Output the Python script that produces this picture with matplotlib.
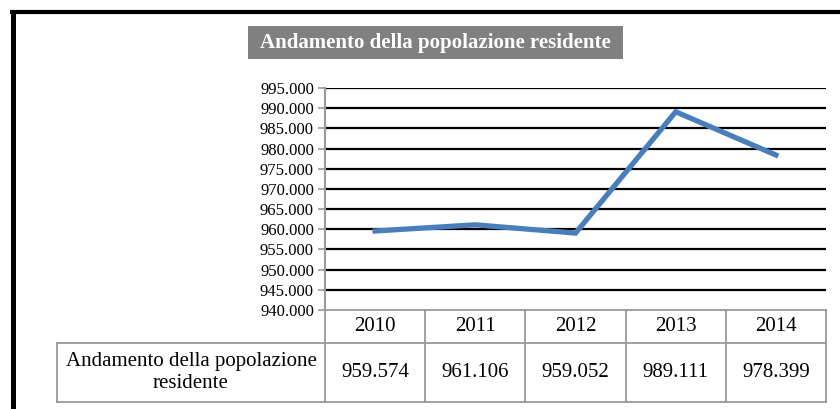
import matplotlib
matplotlib.use("Agg")
import matplotlib.pyplot as plt
from matplotlib.lines import Line2D
from matplotlib.patches import Rectangle
from matplotlib.transforms import blended_transform_factory
from matplotlib.ticker import FuncFormatter

years = ["2010", "2011", "2012", "2013", "2014"]
population = [959574, 961106, 959052, 989111, 978399]
series_label = "Andamento della popolazione\nresidente"
title = "Andamento della popolazione residente"
y_min, y_max, y_step = 940000, 995000, 5000

W, H = 840, 409
fig = plt.figure(figsize=(W / 100, H / 100), dpi=100)
fig.patch.set_facecolor("white")
plt.rcParams["font.family"] = ["Liberation Serif", "DejaVu Serif"]

def fx(px):
    return px / W

def fy(py):
    return 1 - py / H

# plot area in pixels
L, R, T, B = 325, 826, 88, 310
ax = fig.add_axes([fx(L), fy(B), fx(R - L), (B - T) / H])
x = list(range(len(years)))
ax.plot(x, population, color="#4A7EBB", lw=3.8, solid_joinstyle="miter", zorder=3)
ax.set_xlim(-0.5, len(years) - 0.5)
ax.set_ylim(y_min, y_max)
ticks = list(range(y_min, y_max + 1, y_step))
ax.set_yticks(ticks)
ax.yaxis.set_major_formatter(FuncFormatter(lambda v, p: f"{int(v):,}".replace(",", ".")))
ax.set_xticks([])
for t in ticks[1:]:
    ax.axhline(t, color="black", lw=1.6, zorder=1)
for s in ["top", "right", "bottom"]:
    ax.spines[s].set_visible(False)
ax.spines["left"].set_color("#999999")
ax.spines["left"].set_linewidth(1.5)
ax.tick_params(axis="y", colors="#999999", length=5, width=1.2, labelsize=12, labelcolor="black", pad=3)

# data table below the plot
tr = blended_transform_factory(ax.transData, ax.transAxes)
h = B - T
row1 = -33 / h
row2 = -92 / h
label_left = -0.5 - (L - 57) / ((R - L) / len(years))
gc = "#999999"
lw = 1.3
ax.add_line(Line2D([-0.5, len(years) - 0.5], [0, 0], transform=tr, color=gc, lw=lw, clip_on=False))
ax.add_line(Line2D([label_left, len(years) - 0.5], [row1, row1], transform=tr, color=gc, lw=lw, clip_on=False))
ax.add_line(Line2D([label_left, len(years) - 0.5], [row2, row2], transform=tr, color=gc, lw=lw, clip_on=False))
ax.add_line(Line2D([label_left, label_left], [row1, row2], transform=tr, color=gc, lw=lw, clip_on=False))
for i in range(len(years) + 1):
    ax.add_line(Line2D([i - 0.5, i - 0.5], [0, row2], transform=tr, color=gc, lw=lw, clip_on=False))
for i, (yr, v) in enumerate(zip(years, population)):
    ax.text(i, row1 / 2, yr, transform=tr, ha="center", va="center", fontsize=15, clip_on=False)
    ax.text(i, (row1 + row2) / 2, f"{v:,}".replace(",", "."), transform=tr,
            ha="center", va="center", fontsize=15, clip_on=False)
ax.text((label_left - 0.5) / 2, (row1 + row2) / 2, series_label, transform=tr,
        ha="center", va="center", fontsize=15, linespacing=1.2, clip_on=False)

# title box
fig.add_artist(Rectangle((fx(248), fy(59)), fx(623 - 248), (59 - 26) / H,
                         transform=fig.transFigure, facecolor="#808080", edgecolor="none"))
fig.text(fx(435.5), fy(43), title, ha="center", va="center", color="white",
         fontsize=15, fontweight="bold")

# outer frame (top and left thick black lines)
fig.add_artist(Line2D([fx(10), 1], [fy(12), fy(12)], transform=fig.transFigure, color="black",
                      lw=3, solid_capstyle="butt"))
fig.add_artist(Line2D([fx(12.5), fx(12.5)], [fy(10), 0], transform=fig.transFigure, color="black",
                      lw=3.6, solid_capstyle="butt"))

fig.savefig("out.png", dpi=100, facecolor="white")
